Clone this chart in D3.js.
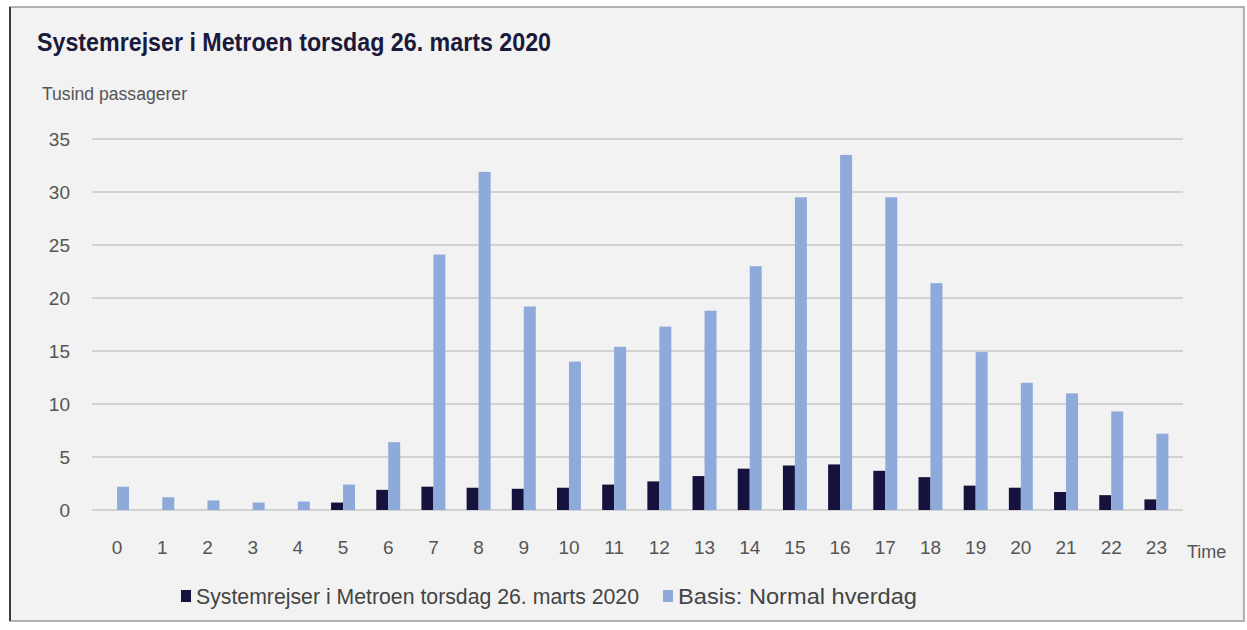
<!DOCTYPE html>
<html>
<head>
<meta charset="utf-8">
<script src="https://cdn.jsdelivr.net/npm/d3@7"></script>
<style>
  html, body { margin: 0; padding: 0; background: #fff; }
  svg { display: block; font-family: "Liberation Sans", "DejaVu Sans", sans-serif; }
</style>
</head>
<body>
<svg id="chart" width="1247" height="630"></svg>
<script>
// hours of the day
const hours = d3.range(0, 24).map(String);
// thousands of passengers
const metro2020 = [0, 0, 0, 0, 0, 0.7, 1.9, 2.2, 2.1, 2.0, 2.1, 2.4, 2.7, 3.2, 3.9, 4.2, 4.3, 3.7, 3.1, 2.3, 2.1, 1.7, 1.4, 1.0];
const basis = [2.2, 1.2, 0.9, 0.7, 0.8, 2.4, 6.4, 24.1, 31.9, 19.2, 14.0, 15.4, 17.3, 18.8, 23.0, 29.5, 33.5, 29.5, 21.4, 14.9, 12.0, 11.0, 9.3, 7.2];
const yTicks = [0, 5, 10, 15, 20, 25, 30, 35];
const seriesNames = ['Systemrejser i Metroen torsdag 26. marts 2020', 'Basis: Normal hverdag'];
const seriesKeys = ['metro', 'basis'];

const navy = '#15133d';
const lightBlue = '#8eaadb';

const svg = d3.select('#chart');

// panel background + frame
svg.append('rect')
  .attr('x', 10).attr('y', 7)
  .attr('width', 1234).attr('height', 614)
  .attr('fill', '#f2f2f2')
  .attr('stroke', '#9a9a9a')
  .attr('stroke-width', 1.5);
svg.append('line')
  .attr('x1', 10).attr('x2', 10).attr('y1', 7).attr('y2', 621)
  .attr('stroke', '#3a3a4a').attr('stroke-width', 2);

// title is a condensed face in the original, so squeeze it to the same width
svg.append('text')
  .attr('x', 37).attr('y', 51)
  .attr('fill', '#1b1a3a')
  .attr('font-size', 25)
  .attr('font-weight', 'bold')
  .attr('textLength', 514)
  .attr('lengthAdjust', 'spacingAndGlyphs')
  .text('Systemrejser i Metroen torsdag 26. marts 2020');

svg.append('text')
  .attr('x', 42).attr('y', 100)
  .attr('fill', '#555')
  .attr('font-size', 18)
  .attr('textLength', 145)
  .attr('lengthAdjust', 'spacingAndGlyphs')
  .text('Tusind passagerer');

const data = hours.map((h, i) => ({ hour: h, metro: metro2020[i], basis: basis[i] }));

const x0 = d3.scaleBand()
  .domain(hours)
  .range([94.5, 1179])
  .paddingInner(0.47)
  .paddingOuter(0.235);

const x1 = d3.scaleBand()
  .domain(seriesKeys)
  .range([0, x0.bandwidth()]);

const y = d3.scaleLinear()
  .domain([0, 35])
  .range([510, 139]);

const color = d3.scaleOrdinal()
  .domain(seriesKeys)
  .range([navy, lightBlue]);

// gridlines
svg.append('g')
  .selectAll('line')
  .data(yTicks)
  .join('line')
  .attr('x1', 92).attr('x2', 1183)
  .attr('y1', d => y(d)).attr('y2', d => y(d))
  .attr('stroke', '#d2d2d2')
  .attr('stroke-width', 2);

// y axis labels
const yAxis = svg.append('g')
  .attr('transform', 'translate(70,0)')
  .call(d3.axisLeft(y).tickValues(yTicks).tickSize(0).tickPadding(0));
yAxis.select('.domain').remove();
yAxis.selectAll('text')
  .attr('fill', '#555')
  .attr('font-size', 19)
  .attr('font-family', '"Liberation Sans", sans-serif');

// bars
svg.append('g')
  .selectAll('g')
  .data(data)
  .join('g')
  .attr('transform', d => `translate(${x0(d.hour)},0)`)
  .selectAll('rect')
  .data(d => seriesKeys.map(k => ({ key: k, value: d[k] })))
  .join('rect')
  .attr('x', d => x1(d.key))
  .attr('width', x1.bandwidth())
  .attr('y', d => y(d.value))
  .attr('height', d => y(0) - y(d.value))
  .attr('fill', d => color(d.key));

// x axis labels
const xAxis = svg.append('g')
  .attr('transform', 'translate(0,540)')
  .call(d3.axisBottom(x0).tickSize(0).tickPadding(0));
xAxis.select('.domain').remove();
xAxis.selectAll('text')
  .attr('fill', '#555')
  .attr('font-size', 19)
  .attr('font-family', '"Liberation Sans", sans-serif');

svg.append('text')
  .attr('x', 1187).attr('y', 558)
  .attr('fill', '#555')
  .attr('font-size', 18)
  .text('Time');

// legend
const legendX = [181, 663];
const legendLen = [443, 239];
const legend = svg.append('g')
  .selectAll('g')
  .data(seriesKeys)
  .join('g')
  .attr('transform', (d, i) => `translate(${legendX[i]},590)`);
legend.append('rect')
  .attr('width', 10).attr('height', 12)
  .attr('fill', d => color(d));
legend.append('text')
  .attr('x', 15).attr('y', 14)
  .attr('fill', '#444')
  .attr('font-size', 22)
  .attr('textLength', (d, i) => legendLen[i])
  .attr('lengthAdjust', 'spacingAndGlyphs')
  .text((d, i) => seriesNames[i]);
</script>
</body>
</html>
